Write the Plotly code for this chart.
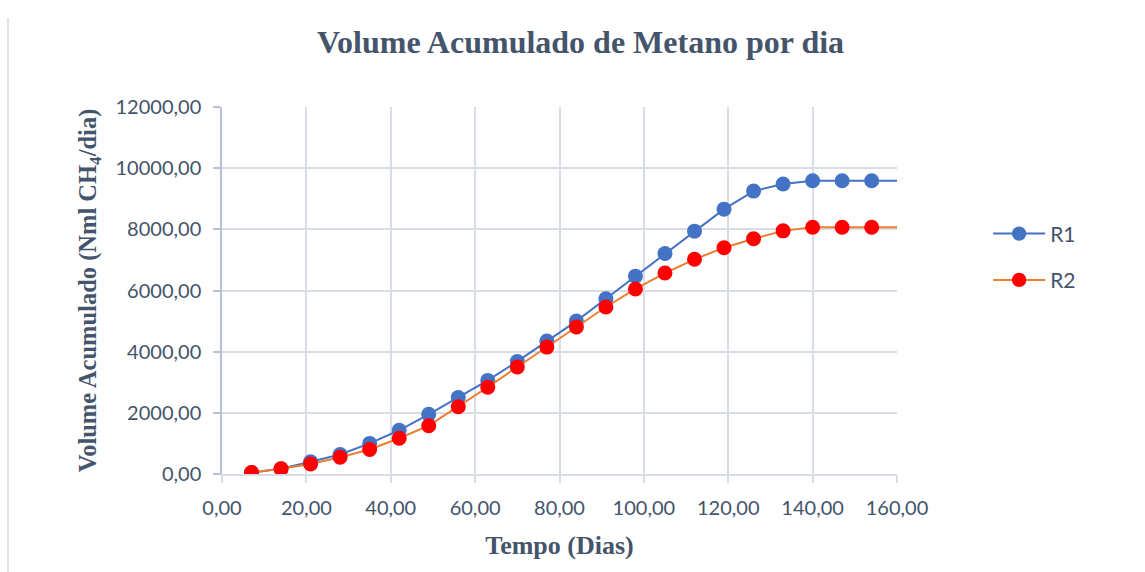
import plotly.graph_objects as go

# ---------------------------------------------------------------------------
# Data
# ---------------------------------------------------------------------------

dias = [7, 14, 21, 28, 35, 42, 49, 56, 63, 70, 77, 84, 91, 98, 105, 112,
        119, 126, 133, 140, 147, 154, 161]

r1 = [50, 170, 400, 640, 1000, 1430, 1950, 2500, 3060, 3680, 4350, 5000,
      5730, 6470, 7210, 7940, 8660, 9250, 9480, 9590, 9590, 9590, 9590]

r2 = [50, 170, 330, 550, 800, 1170, 1580, 2200, 2840, 3500, 4150, 4810,
      5460, 6050, 6570, 7020, 7400, 7690, 7950, 8070, 8070, 8070, 8070]

x_ticks = [0, 20, 40, 60, 80, 100, 120, 140, 160]
y_ticks = [0, 2000, 4000, 6000, 8000, 10000, 12000]

COLOR_TEXT = "#44546A"
COLOR_GRID = "#D9DEE6"
COLOR_AXIS = "#B4C0D4"
COLOR_R1 = "#4472C4"
COLOR_R1_LINE = "#4472C4"
COLOR_R2 = "#FF0000"
COLOR_R2_LINE = "#ED7D31"

TICK_FONT = dict(family="Lato", size=20, color=COLOR_TEXT)

# last point sits just past the axis end: line only, no marker
marker_sizes = [15] * (len(dias) - 1) + [0]

fig = go.Figure()
fig.add_trace(go.Scatter(
    x=dias, y=r1, name="R1", mode="lines+markers",
    line=dict(color=COLOR_R1_LINE, width=2),
    marker=dict(color=COLOR_R1, size=marker_sizes, opacity=1, line=dict(width=0)),
    legendgroup="r1",
))
fig.add_trace(go.Scatter(
    x=dias, y=r2, name="R2", mode="lines+markers",
    line=dict(color=COLOR_R2_LINE, width=2),
    marker=dict(color=COLOR_R2, size=marker_sizes, opacity=1, line=dict(width=0)),
    legendgroup="r2",
))

fig.update_layout(
    width=1145,
    height=572,
    separators=",.",
    paper_bgcolor="white",
    plot_bgcolor="white",
    margin=dict(l=222, r=248, t=107, b=98),
    title=dict(
        text="<b>Volume Acumulado de Metano por dia</b>",
        x=(318 + 843) / 2 / 1145, xanchor="center",
        y=1 - 42 / 572, yanchor="middle",
        font=dict(family="Liberation Serif", size=32, color=COLOR_TEXT),
    ),
    legend=dict(
        x=1.135, xanchor="left",
        y=0.71, yanchor="top",
        font=dict(family="Lato", size=21, color=COLOR_TEXT),
        itemwidth=52,
        tracegroupgap=16,
        bgcolor="rgba(0,0,0,0)",
    ),
    shapes=[dict(
        type="line", xref="paper", yref="paper",
        x0=-214 / 675, x1=-214 / 675, y0=-98 / 367, y1=(474 - 18) / 367,
        line=dict(color="#D9D9D9", width=1.5),
    )],
)

fig.update_xaxes(
    range=[0, 160],
    tickvals=x_ticks,
    tickformat=".2f",
    tickfont=TICK_FONT,
    showgrid=True, gridcolor=COLOR_GRID, gridwidth=1.5,
    showline=True, linecolor=COLOR_GRID, linewidth=1.5,
    ticks="outside", ticklen=7, tickcolor=COLOR_GRID, tickwidth=1.5,
    zeroline=False,
    ticklabelstandoff=8,
    title=dict(
        text="<b>Tempo (Dias)</b>",
        font=dict(family="Liberation Serif", size=26, color=COLOR_TEXT),
        standoff=18,
    ),
)
fig.update_yaxes(
    range=[0, 12000],
    tickvals=y_ticks,
    tickformat=".2f",
    tickfont=TICK_FONT,
    showgrid=True, gridcolor=COLOR_GRID, gridwidth=1.5,
    showline=True, linecolor=COLOR_AXIS, linewidth=1.5,
    ticks="outside", ticklen=7, tickcolor=COLOR_AXIS, tickwidth=1.5,
    zeroline=False,
    ticklabelstandoff=8,
    title=dict(
        text="<b>Volume Acumulado (Nml CH<sub>4</sub>/dia)</b>",
        font=dict(family="Liberation Serif", size=24.5, color=COLOR_TEXT),
        standoff=12,
    ),
)

fig.write_html(
    "out.html",
    config={"displayModeBar": False},
    post_script="document.body.style.margin='0';",
)
